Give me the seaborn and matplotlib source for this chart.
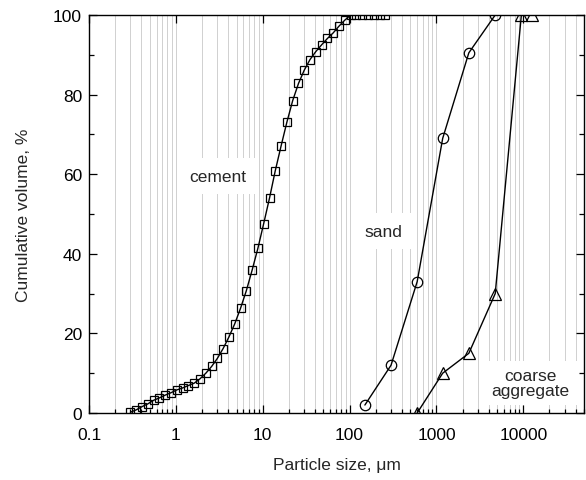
import numpy as np
import pandas as pd
import matplotlib
matplotlib.use('Agg')
import matplotlib.pyplot as plt
import seaborn as sns
from matplotlib.ticker import LogLocator, NullFormatter, FixedLocator, FixedFormatter

sns.set_theme(style="ticks")
plt.rcParams['font.family'] = ['Liberation Sans', 'DejaVu Sans']

# cement (laser diffraction), um vs cumulative %
cement_size = [0.300, 0.350, 0.408, 0.476, 0.555, 0.647, 0.755, 0.880, 1.026, 1.197,
               1.392, 1.627, 1.898, 2.213, 2.581, 3.00, 3.50, 4.08, 4.76, 5.55,
               6.47, 7.55, 8.80, 10.26, 11.97, 13.92, 16.27, 18.98, 22.13, 25.81,
               30.0, 35.0, 40.8, 47.6, 55.5, 64.7, 75.5, 88.0, 102.6, 119.7,
               139.2, 162.7, 189.8, 221.3, 258.1]
cement_vol = [0.2, 0.8, 1.6, 2.3, 3.2, 3.8, 4.5, 5.1, 5.8, 6.3,
              6.9, 7.5, 8.6, 10.0, 11.7, 13.7, 16.2, 19.1, 22.4, 26.3,
              30.7, 35.9, 41.4, 47.6, 54.0, 60.8, 67.1, 73.1, 78.5, 82.8,
              86.1, 88.8, 90.8, 92.5, 94.1, 95.5, 97.2, 98.7, 100, 100,
              100, 100, 100, 100, 100]

# sieve analysis
sand_size = [150, 300, 600, 1180, 2360, 4750]
sand_vol = [2, 12, 33, 69, 90.5, 100]
coarse_size = [600, 1180, 2360, 4750, 9500, 12500]
coarse_vol = [0, 10, 15, 30, 100, 100]

x_ticks = [0.1, 1, 10, 100, 1000, 10000]
x_labels = ['0.1', '1', '10', '100', '1000', '10000']

fig = plt.figure(figsize=(5.86, 4.81), dpi=100)
ax = fig.add_axes([0.1519, 0.1393, 0.8447, 0.8274])

ax.set_xscale('log')
ax.set_xlim(0.1, 50000)
ax.set_ylim(0, 100)

# vertical grid at every log sub-position
grid_x = [m * 10.0 ** e for e in range(-1, 5) for m in range(1, 10)]
for gx in grid_x:
    if 0.1 < gx < 50000:
        ax.axvline(gx, color='#d0d0d0', lw=0.7, zorder=0)

common = dict(color='black', lw=1.0, markerfacecolor='none', markeredgecolor='black',
              markeredgewidth=0.9, estimator=None, sort=False, zorder=5, ax=ax)
sns.lineplot(x=cement_size, y=cement_vol, marker='s', markersize=5.5, **common)
sns.lineplot(x=sand_size, y=sand_vol, marker='o', markersize=7.5, **common)
sns.lineplot(x=coarse_size, y=coarse_vol, marker='^', markersize=8, **common)

fs = 12.5
box = dict(boxstyle='square,pad=0.6', facecolor='white', edgecolor='none')
ax.text(3.0, 59.5, 'cement', fontsize=fs, ha='center', va='center', bbox=box, zorder=3)
ax.text(246, 45.7, 'sand', fontsize=fs, ha='center', va='center', bbox=box, zorder=3)
ax.text(12200, 7.5, 'coarse\naggregate', fontsize=fs, ha='center', va='center',
        linespacing=1.0, bbox=dict(boxstyle='square,pad=0.4', facecolor='white', edgecolor='none'),
        zorder=3)

ax.xaxis.set_major_locator(FixedLocator(x_ticks))
ax.xaxis.set_major_formatter(FixedFormatter(x_labels))
ax.xaxis.set_minor_locator(LogLocator(base=10, subs=np.arange(2, 10), numticks=20))
ax.xaxis.set_minor_formatter(NullFormatter())
ax.set_yticks([0, 20, 40, 60, 80, 100])
ax.set_yticks([10, 30, 50, 70, 90], minor=True)

ax.tick_params(axis='both', which='both', direction='in', colors='black',
               labelsize=fs, width=0.9)
ax.tick_params(axis='x', which='major', length=6, top=True, pad=10)
ax.tick_params(axis='x', which='minor', length=3, top=False)
ax.tick_params(axis='y', which='major', length=6, right=True, pad=5)
ax.tick_params(axis='y', which='minor', length=3.5, right=True)

for s in ax.spines.values():
    s.set_color('black')
    s.set_linewidth(1.0)

ax.set_xlabel('Particle size, μm', fontsize=fs, labelpad=11)
ax.set_ylabel('Cumulative volume, %', fontsize=fs, labelpad=16)

fig.savefig('out.png', dpi=100)
